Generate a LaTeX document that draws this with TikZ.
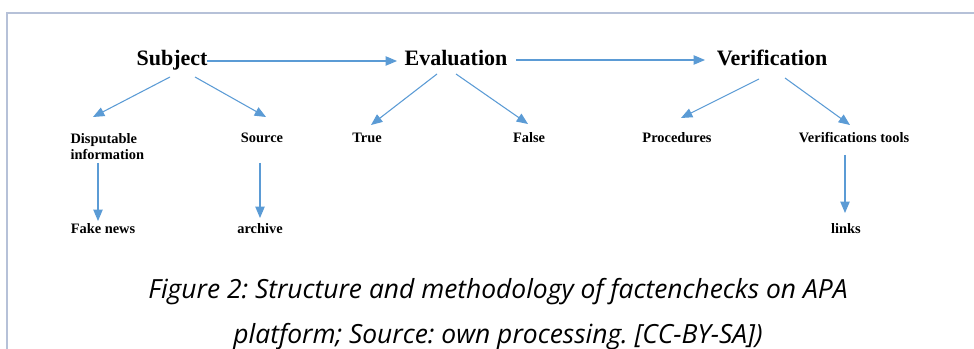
\documentclass[tikz,border=0pt]{standalone}
\usepackage{fontspec}
\setmainfont{Liberation Serif}
\newfontfamily\capfont{Open Sans}
\usetikzlibrary{arrows.meta,calc}

\definecolor{arrowblue}{RGB}{91,155,213}
\definecolor{framegrey}{RGB}{182,193,216}

\tikzset{every picture/.style={line width=0.75pt}}
\tikzset{
  topbox/.style={anchor=base, inner sep=0pt, font=\fontsize{16.5}{18}\selectfont\bfseries},
  subbox/.style={anchor=base, inner sep=0pt, font=\fontsize{10.8}{12}\selectfont\bfseries},
  capline/.style={anchor=base, inner sep=0pt, font=\capfont\itshape\fontsize{19.8}{22}\selectfont\frenchspacing},
  arr/.style={draw=arrowblue, line width=0.8pt, -{Triangle[length=8.5pt,width=7pt]}},
}

\begin{document}
\begin{tikzpicture}[x=0.75pt,y=0.75pt,yscale=-1,xscale=1]
	\useasboundingbox (0,0) rectangle (974,349);

	%Frame
	\draw [framegrey, line width=2pt] (7,352) -- (7,13) -- (978,13) ;

	% Text Node
	\node [topbox] (subject) at (172,66) {Subject};
	% Text Node
	\node [topbox] (evaluation) at (456,66) {Evaluation};
	% Text Node
	\node [topbox] (verification) at (772,66) {Verification};

	% Text Node
	\node [subbox, anchor=north west, align=left] (disputable) at (70,133) {Disputable\\information};
	% Text Node
	\node [subbox] (source) at (262,143) {Source};
	% Text Node
	\node [subbox] (true) at (367,143) {True};
	% Text Node
	\node [subbox] (false) at (529,143) {False};
	% Text Node
	\node [subbox] (procedures) at (677,143) {Procedures};
	% Text Node
	\node [subbox] (vtools) at (854,143) {Verifications tools};
	% Text Node
	\node [subbox] (fakenews) at (103,233) {Fake news};
	% Text Node
	\node [subbox] (archive) at (260,233) {archive};
	% Text Node
	\node [subbox] (links) at (846,233) {links};

	%Straight Lines
	\draw [arr] ($(subject.base)+(35,-5)$) -- ($(evaluation.base)+(-59,-5)$) ;
	\draw [arr] ($(evaluation.base)+(60,-6)$) -- ($(verification.base)+(-67,-6)$) ;
	\draw [arr] ($(subject.base)+(-2,11)$) -- ($(disputable.north west)+(23,-16)$) ;
	\draw [arr] ($(subject.base)+(23,11)$) -- ($(source.base)+(4,-26)$) ;
	\draw [arr] ($(evaluation.base)+(-19,8)$) -- ($(true.base)+(4,-18)$) ;
	\draw [arr] ($(evaluation.base)+(0,8)$) -- ($(false.base)+(-1,-19)$) ;
	\draw [arr] ($(verification.base)+(-13,13)$) -- ($(procedures.base)+(4,-25)$) ;
	\draw [arr] ($(verification.base)+(13,12)$) -- ($(vtools.base)+(-4,-18)$) ;
	\draw [arr] ($(disputable.north west)+(28,30)$) -- ($(fakenews.base)+(-5,-12)$) ;
	\draw [arr] ($(source.base)+(-2,20)$) -- ($(archive.base)+(0,-15)$) ;
	\draw [arr] ($(vtools.base)+(-9,12)$) -- ($(links.base)+(-1,-20)$) ;

	% Caption
	\node [capline] (caption1) at (498,298) {Figure 2: Structure and methodology of factenchecks on APA};
	\node [capline] (caption2) at (498,343) {platform; Source: own processing. [CC-BY-SA])};
\end{tikzpicture}
\end{document}
